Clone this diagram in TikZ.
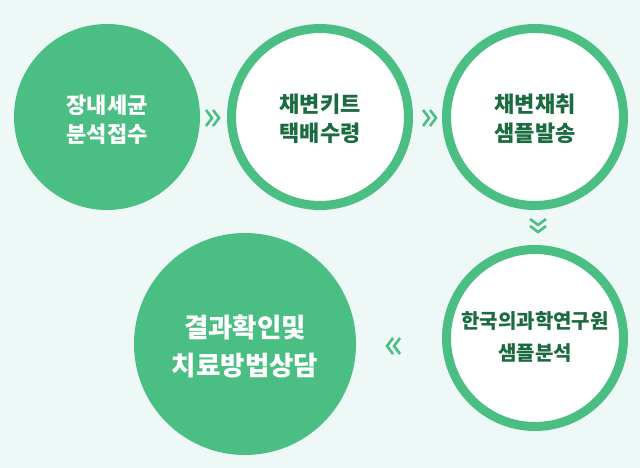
\documentclass[tikz,border=0pt]{standalone}
\usepackage{fontspec}
\newfontfamily\kr{Noto Sans CJK KR}
\definecolor{bg}{HTML}{EEF8F6}
\definecolor{gr}{HTML}{4ABE83}
\definecolor{dg}{HTML}{1B6B40}
\begin{document}
\begin{tikzpicture}[x=1pt,y=-1pt,
  filled/.style={circle,fill=gr,inner sep=0pt},
  ring/.style={circle,fill=white,draw=gr,line width=9pt,inner sep=0pt},
  wtxt/.style={text=white,align=center,inner sep=0pt},
  gtxt/.style={text=dg,align=center,inner sep=0pt},
  chev/.style={draw=gr,line width=2.6pt,line cap=butt,line join=miter}]
\fill[bg] (0,0) rectangle (640,468);
\useasboundingbox (0,0) rectangle (640,468);
\node[filled,minimum size=186pt] (a) at (107,117) {};
\node[ring,minimum size=177pt] (b) at (320,117) {};
\node[ring,minimum size=177pt] (c) at (535,117) {};
\node[ring,minimum size=177pt] (d) at (535,338) {};
\node[filled,minimum size=222pt] (e) at (245,344) {};
\node[wtxt,font=\kr\bfseries\fontsize{22}{29}\selectfont] (ta) at ([yshift=-2.5]a.center) {장내세균\\분석접수};
\node[gtxt,font=\kr\bfseries\fontsize{22}{29}\selectfont] (tb) at ([yshift=-2]b.center) {채변키트\\택배수령};
\node[gtxt,font=\kr\bfseries\fontsize{22}{29}\selectfont] (tc) at ([yshift=-2]c.center) {채변채취\\샘플발송};
\node[gtxt,font=\kr\bfseries\fontsize{20}{32}\selectfont] (td) at ([yshift=1]d.center) {한국의과학연구원\\샘플분석};
\node[wtxt,font=\kr\bfseries\fontsize{26.5}{38}\selectfont] (te) at ([yshift=-3]e.center) {결과확인및\\치료방법상담};
% chevrons
\coordinate (ab) at (213,118);
\coordinate (bc) at (430,118);
\coordinate (cd) at (538,226);
\coordinate (de) at (393,346);
\draw[chev] ([shift={(-7,-8)}]ab) -- ([shift={(-1,0)}]ab) -- ([shift={(-7,8)}]ab);
\draw[chev] ([shift={(0,-8)}]ab) -- ([shift={(6,0)}]ab) -- ([shift={(0,8)}]ab);
\draw[chev] ([shift={(-7,-8)}]bc) -- ([shift={(-1,0)}]bc) -- ([shift={(-7,8)}]bc);
\draw[chev] ([shift={(0,-8)}]bc) -- ([shift={(6,0)}]bc) -- ([shift={(0,8)}]bc);
\draw[chev] ([shift={(-8,-7)}]cd) -- ([shift={(0,-1)}]cd) -- ([shift={(8,-7)}]cd);
\draw[chev] ([shift={(-8,0)}]cd) -- ([shift={(0,6)}]cd) -- ([shift={(8,0)}]cd);
\draw[chev] ([shift={(7,-8)}]de) -- ([shift={(1,0)}]de) -- ([shift={(7,8)}]de);
\draw[chev] ([shift={(0,-8)}]de) -- ([shift={(-6,0)}]de) -- ([shift={(0,8)}]de);
\end{tikzpicture}
\end{document}
